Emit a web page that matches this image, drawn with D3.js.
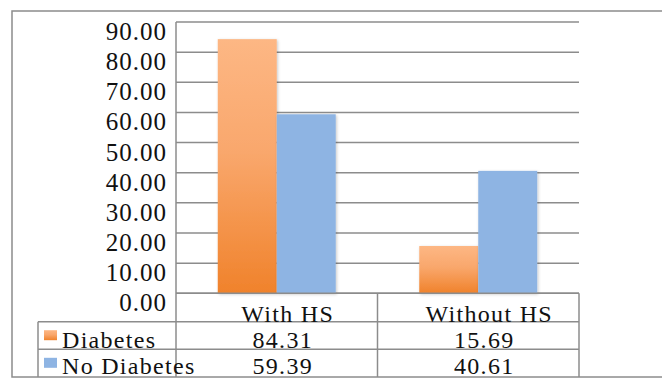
<!DOCTYPE html>
<html>
<head>
<meta charset="utf-8">
<script src="https://cdn.jsdelivr.net/npm/d3@7"></script>
<style>
  html, body { margin: 0; padding: 0; background: #fff; }
  svg { display: block; }
  text { font-family: "Liberation Serif", "Times New Roman", serif; font-size: 25px; letter-spacing: 1px; fill: #111; }
  text.tbl { font-size: 24px; letter-spacing: 1.3px; }
</style>
</head>
<body>
<svg id="chart" width="662" height="379"></svg>
<script>
const categories = ["With HS", "Without HS"];
const seriesNames = ["Diabetes", "No Diabetes"];
const diabetes = [84.31, 15.69];
const noDiabetes = [59.39, 40.61];
const yTicks = [0, 10, 20, 30, 40, 50, 60, 70, 80, 90];

const series = [
  { name: seriesNames[0], values: diabetes, fill: "url(#orangeGrad)", key: "url(#orangeGrad)" },
  { name: seriesNames[1], values: noDiabetes, fill: "#8EB4E3", key: "#8EB4E3" }
];

const svg = d3.select("#chart");
const W = 662, H = 379;
const plot = { left: 176, right: 579, top: 22, bottom: 293.3 };
const rowTop = [293.3, 321.7, 349.3, 377];
const headerBaseline = 321.5;
const rowBaseline = [347.5, 373.5];
const tableLeft = 38;
const lineColor = "#8c8c8c";

const defs = svg.append("defs");
const grad = defs.append("linearGradient").attr("id", "orangeGrad")
  .attr("x1", 0).attr("y1", 0).attr("x2", 0).attr("y2", 1);
grad.append("stop").attr("offset", "0%").attr("stop-color", "#FDB784");
grad.append("stop").attr("offset", "45%").attr("stop-color", "#F9A76C");
grad.append("stop").attr("offset", "100%").attr("stop-color", "#F0822B");
const sh = defs.append("filter").attr("id", "shadow")
  .attr("x", "-20%").attr("y", "-20%").attr("width", "140%").attr("height", "140%");
sh.append("feDropShadow").attr("dx", 1).attr("dy", 1).attr("stdDeviation", 1.5)
  .attr("flood-color", "#000").attr("flood-opacity", 0.22);

const y = d3.scaleLinear().domain([0, 90]).range([plot.bottom, plot.top]);
const x0 = d3.scaleBand().domain(categories).range([plot.left, plot.right]).padding(0);
const x1 = d3.scaleBand().domain(seriesNames).range([0, x0.bandwidth()])
  .paddingInner(0).paddingOuter(0.708);

// outer border
svg.append("rect").attr("x", 12).attr("y", 11).attr("width", W + 20).attr("height", 366)
  .attr("fill", "none").attr("stroke", lineColor).attr("stroke-width", 1.5);

// gridlines
svg.append("g").selectAll("line").data(yTicks).join("line")
  .attr("x1", plot.left).attr("x2", plot.right)
  .attr("y1", d => y(d)).attr("y2", d => y(d))
  .attr("stroke", lineColor).attr("stroke-width", 1.5);

// y tick labels
svg.append("g").selectAll("text").data(yTicks).join("text")
  .attr("x", 167).attr("y", d => y(d) + 18)
  .attr("text-anchor", "end")
  .text(d => d3.format(".2f")(d));

// bars
const groups = svg.append("g").selectAll("g").data(categories).join("g")
  .attr("transform", c => `translate(${x0(c)},0)`);
groups.selectAll("rect")
  .data((c, i) => series.map(s => ({ s, v: s.values[i] })))
  .join("rect")
  .attr("x", d => x1(d.s.name))
  .attr("width", x1.bandwidth())
  .attr("y", d => y(d.v))
  .attr("height", d => y(0) - y(d.v))
  .attr("fill", d => d.s.fill)
  .attr("filter", "url(#shadow)");

// axis line (left) and table
const tbl = svg.append("g").attr("stroke", lineColor).attr("stroke-width", 1.5);
tbl.append("line").attr("x1", plot.left).attr("x2", plot.left).attr("y1", plot.top).attr("y2", rowTop[3]);
tbl.append("line").attr("x1", plot.left).attr("x2", plot.right).attr("y1", y(0)).attr("y2", y(0));
[rowTop[1], rowTop[2]].forEach(r => {
  tbl.append("line").attr("x1", tableLeft).attr("x2", plot.right).attr("y1", r).attr("y2", r);
});
tbl.append("line").attr("x1", tableLeft).attr("x2", tableLeft).attr("y1", rowTop[1]).attr("y2", rowTop[3]);
categories.forEach(c => {
  const xr = x0(c) + x0.bandwidth();
  tbl.append("line").attr("x1", xr).attr("x2", xr).attr("y1", y(0)).attr("y2", rowTop[3]);
});

// category headers
svg.append("g").selectAll("text").data(categories).join("text")
  .attr("class", "tbl")
  .attr("x", c => x0(c) + x0.bandwidth() / 2 + 11)
  .attr("y", headerBaseline)
  .attr("text-anchor", "middle")
  .text(c => c);

// rows: legend key, name, values
series.forEach((s, i) => {
  const top = rowTop[i + 1];
  svg.append("rect").attr("x", 44).attr("y", top + 8.5).attr("width", 13).attr("height", 10)
    .attr("fill", s.key);
  svg.append("text").attr("class", "tbl").attr("x", 62).attr("y", rowBaseline[i]).text(s.name);
  svg.append("g").selectAll("text").data(categories).join("text")
    .attr("class", "tbl")
    .attr("x", c => x0(c) + x0.bandwidth() / 2 + 6)
    .attr("y", rowBaseline[i])
    .attr("text-anchor", "middle")
    .text((c, j) => d3.format(".2f")(s.values[j]));
});
</script>
</body>
</html>
